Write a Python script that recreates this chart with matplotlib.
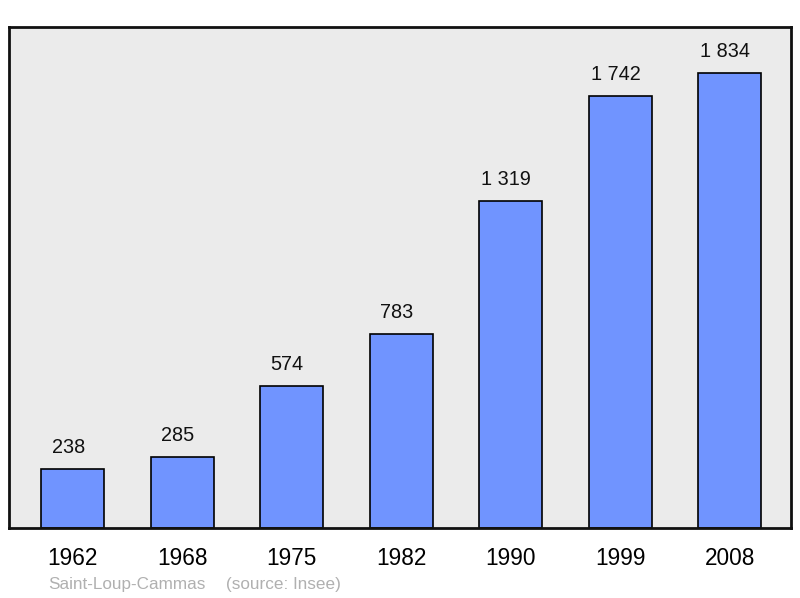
import matplotlib.pyplot as plt

plt.rcParams["font.family"] = ["Liberation Sans", "DejaVu Sans"]

years = ["1962", "1968", "1975", "1982", "1990", "1999", "2008"]
population = [238, 285, 574, 783, 1319, 1742, 1834]
value_labels = ["238", "285", "574", "783", "1 319", "1 742", "1 834"]

fig = plt.figure(figsize=(8, 5.98), dpi=100)
ax = fig.add_axes([9 / 800, 1 - 528 / 598, 782 / 800, 501 / 598])
ax.set_facecolor("#ebebeb")

x = list(range(len(years)))
ax.bar(x, population, width=0.575, color="#7094ff", edgecolor="#000000", linewidth=1.2, zorder=2)
for xi, v, lab in zip(x, population, value_labels):
    ax.text(xi - 0.04, v + 48, lab, ha="center", va="bottom", fontsize=14.3, color="#111111")

ax.set_xlim(-0.58, 6.56)
ax.set_ylim(0, 2019)
ax.set_xticks(x)
ax.set_xticklabels(years, fontsize=16.3)
ax.tick_params(axis="x", length=0, pad=14)
ax.set_yticks([])
for side in ["top", "right", "left", "bottom"]:
    ax.spines[side].set_linewidth(2)
    ax.spines[side].set_color("#111111")

fig.text(48 / 800, 1 - 584 / 598, "Saint-Loup-Cammas",
         fontsize=12.3, color="#b0b0b0", va="center", ha="left")
fig.text(226 / 800, 1 - 584 / 598, "(source: Insee)",
         fontsize=12.3, color="#b0b0b0", va="center", ha="left")

fig.savefig("out.png", dpi=100)
